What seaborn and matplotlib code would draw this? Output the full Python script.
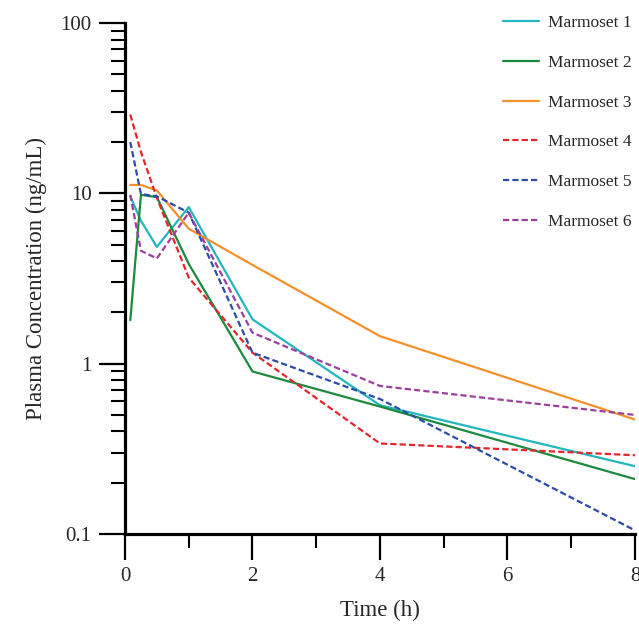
import numpy as np
import pandas as pd
import seaborn as sns
from matplotlib import pyplot as plt
from matplotlib.ticker import MultipleLocator, FixedLocator, FixedFormatter, LogLocator, NullFormatter

# sampling times (h)
times = [0.083, 0.25, 0.5, 1, 2, 4, 8]

# plasma concentration (ng/mL)
marmoset_1 = [9.6, 6.9, 4.85, 8.3, 1.82, 0.57, 0.25]
marmoset_2 = [1.8, 9.8, 9.5, 3.85, 0.90, 0.56, 0.21]
marmoset_3 = [11.2, 11.2, 10.4, 6.2, 3.8, 1.45, 0.47]
marmoset_4 = [29.0, 17.5, 9.4, 3.2, 1.16, 0.34, 0.29]
marmoset_5 = [20.0, 9.9, 9.6, 7.7, 1.16, 0.62, 0.105]
marmoset_6 = [9.8, 4.6, 4.15, 7.7, 1.52, 0.74, 0.50]

names = ["Marmoset 1", "Marmoset 2", "Marmoset 3",
         "Marmoset 4", "Marmoset 5", "Marmoset 6"]
series = [marmoset_1, marmoset_2, marmoset_3, marmoset_4, marmoset_5, marmoset_6]

df = pd.DataFrame({
    "Time": times * len(names),
    "Conc": sum(series, []),
    "Animal": np.repeat(names, len(times)),
})

colors = ["#22b6bf", "#1c8a3e", "#f4902c", "#e2262d", "#2c4ca8", "#9c3f9d"]
dash_solid = ""
dash_dot = (2.8, 1.4)
dashes = dict(zip(names, [dash_solid] * 3 + [dash_dot] * 3))

sns.set_style("ticks")
plt.rcParams["font.family"] = ["Liberation Serif", "DejaVu Serif"]

fig = plt.figure(figsize=(6.39, 6.33), dpi=100)
ax = fig.add_axes([125 / 639, 1 - 534 / 633, 510 / 639, 511 / 633])

sns.lineplot(data=df, x="Time", y="Conc", hue="Animal", style="Animal",
             palette=dict(zip(names, colors)), dashes=dashes,
             linewidth=1.6, ax=ax, legend=False)

ax.set_yscale("log")
ax.set_ylim(0.1, 100)
ax.set_xlim(0, 8)

ax.xaxis.set_major_locator(MultipleLocator(2))
ax.xaxis.set_minor_locator(MultipleLocator(1))
ax.yaxis.set_major_locator(FixedLocator([0.1, 1, 10, 100]))
ax.yaxis.set_major_formatter(FixedFormatter(["0.1", "1", "10", "100"]))
ax.yaxis.set_minor_locator(LogLocator(base=10, subs=np.arange(2, 10)))
ax.yaxis.set_minor_formatter(NullFormatter())

for side in ["top", "right"]:
    ax.spines[side].set_visible(False)
for side in ["left", "bottom"]:
    ax.spines[side].set_linewidth(2.3)
    ax.spines[side].set_color("black")

ax.tick_params(which="major", direction="out", length=19, width=1.6,
               labelsize=15, color="black", pad=5)
ax.tick_params(which="minor", direction="out", length=10, width=1.5,
               color="black")

ax.set_xlabel("Time (h)", fontsize=16.5, labelpad=10)
ax.set_ylabel("Plasma Concentration (ng/mL)", fontsize=16.5, labelpad=10)

handles = [plt.Line2D([], [], color=c, lw=1.6,
                      linestyle="-" if i < 3 else (0, dash_dot))
           for i, c in enumerate(colors)]
fig.legend(handles, names, loc="upper left", bbox_to_anchor=(503 / 639, 1 - 15 / 633),
           frameon=False, fontsize=12.5, handlelength=2.1, handletextpad=0.5,
           labelspacing=1.36, borderpad=0, borderaxespad=0)

fig.savefig("out.png", dpi=100)
